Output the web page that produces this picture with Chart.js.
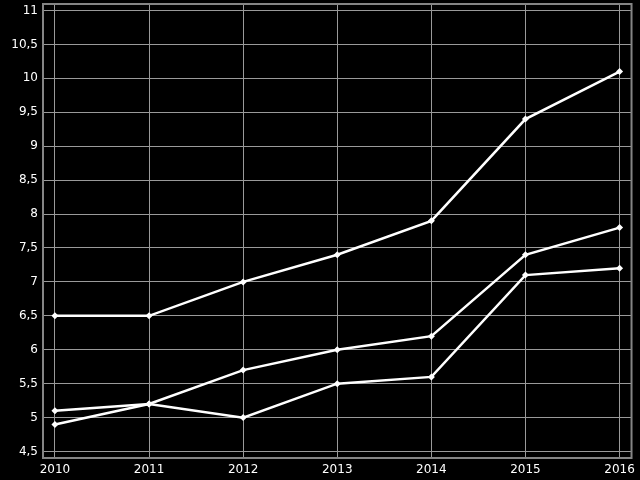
<!DOCTYPE html>
<html>
<head>
<meta charset="utf-8">
<script src="https://cdn.jsdelivr.net/npm/chart.js@4/dist/chart.umd.min.js"></script>
<style>
  html, body { margin: 0; padding: 0; background: #000; }
  #wrap { width: 640px; height: 480px; }
</style>
</head>
<body>
<div id="wrap"><canvas id="lineChart"></canvas></div>
<script>
// data
var years = [2010, 2011, 2012, 2013, 2014, 2015, 2016];
var seriesA = [6.5, 6.5, 7.0, 7.4, 7.9, 9.4, 10.1];
var seriesB = [4.9, 5.2, 5.7, 6.0, 6.2, 7.4, 7.8];
var seriesC = [5.1, 5.2, 5.0, 5.5, 5.6, 7.1, 7.2];
var yTicks = [4.5, 5, 5.5, 6, 6.5, 7, 7.5, 8, 8.5, 9, 9.5, 10, 10.5, 11];

function pts(vals) {
  return vals.map(function(v, i) { return {x: years[i], y: v}; });
}

function lineSet(vals) {
  return {
    data: pts(vals),
    borderColor: '#fff',
    backgroundColor: '#fff',
    borderWidth: 2.5,
    pointStyle: 'rectRot',
    pointRadius: 3.5,
    pointBorderWidth: 0,
    tension: 0
  };
}

// frame round the plot area
var frame = {
  id: 'frame',
  afterDraw: function(chart) {
    var a = chart.chartArea, ctx = chart.ctx;
    ctx.save();
    ctx.strokeStyle = '#858585';
    ctx.lineWidth = 2;
    ctx.strokeRect(a.left, a.top, a.right - a.left, a.bottom - a.top);
    ctx.restore();
  }
};

new Chart(document.getElementById('lineChart'), {
  type: 'line',
  data: {
    datasets: [lineSet(seriesA), lineSet(seriesB), lineSet(seriesC)]
  },
  options: {
    responsive: true,
    maintainAspectRatio: false,
    animation: false,
    layout: { padding: { top: 4, right: 8, left: 0, bottom: 0 } },
    plugins: {
      legend: { display: false },
      tooltip: { enabled: false }
    },
    scales: {
      x: {
        type: 'linear',
        min: 2009.873,
        max: 2016.127,
        afterBuildTicks: function(axis) {
          axis.ticks = years.map(function(y) { return {value: y}; });
        },
        afterFit: function(axis) { axis.height = 22; },
        grid: { color: '#9a9a9a', lineWidth: 1, drawTicks: false },
        border: { display: false },
        ticks: {
          color: '#fff',
          padding: 5,
          maxRotation: 0,
          autoSkip: false,
          font: { family: 'DejaVu Sans', size: 12 },
          callback: function(v) { return String(v); }
        }
      },
      y: {
        min: 4.405,
        max: 11.095,
        afterBuildTicks: function(axis) {
          axis.ticks = yTicks.map(function(v) { return {value: v}; });
        },
        afterFit: function(axis) {
          axis.width = 43;
          axis.paddingTop = 0;
          axis.paddingBottom = 0;
        },
        grid: { color: '#9a9a9a', lineWidth: 1, drawTicks: false },
        border: { display: false },
        ticks: {
          color: '#fff',
          padding: 5,
          autoSkip: false,
          font: { family: 'DejaVu Sans', size: 12 },
          callback: function(v) { return String(v).replace('.', ','); }
        }
      }
    }
  },
  plugins: [frame]
});
</script>
</body>
</html>
